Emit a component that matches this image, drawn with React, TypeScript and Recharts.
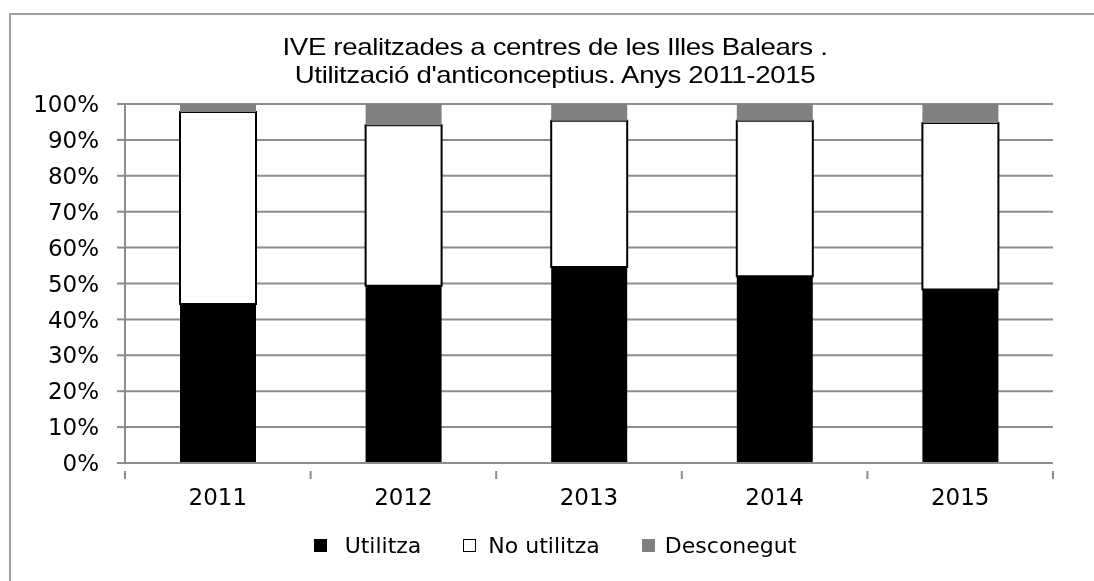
import React from 'react';
import { BarChart, Bar, XAxis, YAxis, CartesianGrid } from 'recharts';

const years = ['2011', '2012', '2013', '2014', '2015'];
const utilitza = [44.3, 49.4, 54.6, 52.0, 48.3];
const noUtilitza = [53.5, 44.7, 40.7, 43.3, 46.4];
const desconegut = [2.2, 5.9, 4.7, 4.7, 5.3];
const yTicks = [0, 10, 20, 30, 40, 50, 60, 70, 80, 90, 100];

const titleLines = [
  "IVE realitzades a centres de les Illes Balears .",
  "Utilització d'anticonceptius. Anys 2011-2015",
];

const legendItems = [
  { label: 'Utilitza', fill: '#000000', stroke: '#000000', gap: 18 },
  { label: 'No utilitza', fill: '#ffffff', stroke: '#000000', gap: 12 },
  { label: 'Desconegut', fill: '#808080', stroke: '#808080', gap: 10 },
];

const data = years.map((year, i) => ({
  year,
  utilitza: utilitza[i],
  noUtilitza: noUtilitza[i],
  desconegut: desconegut[i],
}));

const GRID = '#8c8c8c';
const FONT = '"DejaVu Sans", Verdana, sans-serif';

// category ticks: label centred, tick marks on the band edges like Excel
function YearTick(props: any) {
  const { x, y, payload, index, visibleTicksCount, width } = props;
  const half = payload?.offset || width / visibleTicksCount / 2;
  return (
    <g>
      <line x1={x - half} y1={y} x2={x - half} y2={y + 8} stroke={GRID} strokeWidth={2} />
      {index === visibleTicksCount - 1 && (
        <line x1={x + half} y1={y} x2={x + half} y2={y + 8} stroke={GRID} strokeWidth={2} />
      )}
      <text x={x} y={y + 34} textAnchor="middle" fontSize={23} fontFamily={FONT} fill="#000">
        {payload.value}
      </text>
    </g>
  );
}

export default function App() {
  return (
    <div style={{ position: 'relative', width: 1078, height: 565, background: '#fff' }}>
      {/* outer frame, fixed so it never makes the page scroll */}
      <div
        style={{
          position: 'fixed',
          left: 9,
          top: 13,
          width: 1200,
          height: 700,
          borderLeft: '2px solid #a0a0a0',
          borderTop: '2px solid #a0a0a0',
          pointerEvents: 'none',
        }}
      />
      <div
        style={{
          position: 'absolute',
          left: 16,
          top: 25,
          width: 1062,
          textAlign: 'center',
          fontFamily: '"Liberation Sans", Arial, sans-serif',
          fontSize: 24,
          lineHeight: '28px',
          letterSpacing: -0.3,
          color: '#000',
          transform: 'scaleX(1.15)',
          transformOrigin: '50% 0',
        }}
      >
        {titleLines.map((t) => (
          <div key={t}>{t}</div>
        ))}
      </div>
      <div style={{ position: 'absolute', left: 0, top: 0 }}>
        <BarChart
          width={1078}
          height={565}
          data={data}
          margin={{ top: 96, right: 33, left: 17, bottom: 70 }}
        >
          <CartesianGrid vertical={false} stroke={GRID} strokeWidth={2} />
          <XAxis
            dataKey="year"
            height={40}
            axisLine={{ stroke: GRID, strokeWidth: 2 }}
            tickLine={false}
            tick={<YearTick />}
            interval={0}
          />
          <YAxis
            width={100}
            domain={[0, 100]}
            ticks={yTicks}
            tickFormatter={(v: number) => `${v}%`}
            axisLine={{ stroke: GRID, strokeWidth: 2 }}
            tickLine={{ stroke: GRID, strokeWidth: 2 }}
            tickSize={8}
            tickMargin={18}
            tick={{ fontSize: 23, fontFamily: FONT, fill: '#000' }}
            interval={0}
          />
          <Bar dataKey="utilitza" stackId="a" barSize={76} fill="#000000" isAnimationActive={false} />
          <Bar
            dataKey="noUtilitza"
            stackId="a"
            barSize={76}
            fill="#ffffff"
            stroke="#000000"
            strokeWidth={2}
            isAnimationActive={false}
          />
          <Bar dataKey="desconegut" stackId="a" barSize={76} fill="#808080" isAnimationActive={false} />
        </BarChart>
      </div>
      <div
        style={{
          position: 'absolute',
          left: 16,
          top: 525,
          width: 1062,
          display: 'flex',
          justifyContent: 'center',
          alignItems: 'center',
          gap: 42,
          fontFamily: FONT,
          fontSize: 22,
          color: '#000',
        }}
      >
        {legendItems.map((it) => (
          <div key={it.label} style={{ display: 'flex', alignItems: 'center' }}>
            <span
              style={{
                display: 'inline-block',
                width: 13,
                height: 13,
                boxSizing: 'border-box',
                background: it.fill,
                border: `1.5px solid ${it.stroke}`,
                marginRight: it.gap,
              }}
            />
            <span>{it.label}</span>
          </div>
        ))}
      </div>
    </div>
  );
}
